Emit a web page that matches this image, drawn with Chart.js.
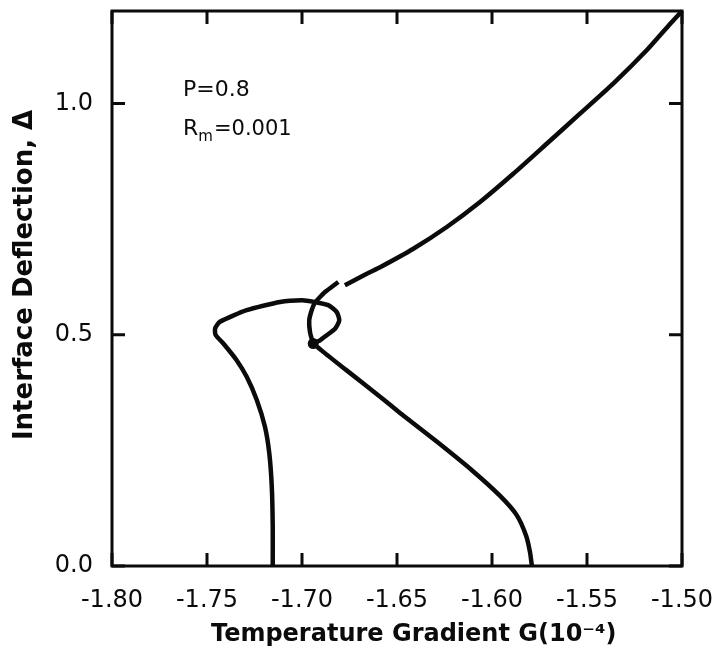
<!DOCTYPE html>
<html>
<head>
<meta charset="utf-8">
<script src="https://cdn.jsdelivr.net/npm/chart.js@4.4.1/dist/chart.umd.min.js"></script>
<style>
  html, body { margin: 0; padding: 0; background: #fff; }
  #wrap { width: 713px; height: 664px; }
</style>
</head>
<body>
<div id="wrap"><canvas id="deflectionChart" width="713" height="664"></canvas></div>
<script>
// tick values
const gTicks = [-1.80, -1.75, -1.70, -1.65, -1.60, -1.55, -1.50];
const deltaTicks = [0.0, 0.5, 1.0];

// left branch, nose, top edge, right side of the loop, then down to G = -1.579
const lowerG = [-1.7154, -1.7154, -1.7159, -1.7172, -1.7195, -1.7238, -1.7291, -1.7344, -1.7414, -1.7455,
  -1.7457, -1.7432, -1.7291, -1.7116, -1.7000, -1.6935, -1.6862, -1.6817, -1.6804, -1.6826,
  -1.6870, -1.6905, -1.6935, -1.6888, -1.6765, -1.6589, -1.6484, -1.6291, -1.6100, -1.5956,
  -1.5870, -1.5820, -1.5800, -1.5790];
const lowerDelta = [0.000, 0.085, 0.171, 0.243, 0.301, 0.359, 0.409, 0.445, 0.481, 0.500,
  0.514, 0.528, 0.553, 0.571, 0.5745, 0.571, 0.564, 0.549, 0.531, 0.513,
  0.499, 0.488, 0.481, 0.463, 0.423, 0.366, 0.331, 0.269, 0.205, 0.151,
  0.110, 0.065, 0.030, 0.000];

// left side of the loop and the upper branch (small break near G = -1.68)
const upperG = [-1.6941, -1.6944, -1.6958, -1.6962, -1.6949, -1.6932, -1.6905, -1.6879, -1.6844, -1.6809,
  null, -1.6774, -1.6659, -1.6589, -1.6414, -1.6238, -1.6063, -1.5888, -1.5712, -1.5537,
  -1.5362, -1.5186, -1.5063, -1.5000];
const upperDelta = [0.481, 0.484, 0.506, 0.531, 0.553, 0.5695, 0.5816, 0.5924, 0.6032, 0.614,
  null, 0.607, 0.632, 0.646, 0.686, 0.733, 0.787, 0.848, 0.913, 0.978,
  1.043, 1.115, 1.172, 1.200];

// the heavy dot where the branches meet
const dotG = [-1.6941];
const dotDelta = [0.481];

const toPoints = (gs, ds) => gs.map((g, i) => ({ x: g, y: ds[i] }));

const ink = '#0b0b0b';
const fontFamily = '"DejaVu Sans", sans-serif';

// frame round the plot with inward tick marks on all four sides
const framePlugin = {
  id: 'frame',
  afterDraw(chart) {
    const { ctx, chartArea: a, scales: { x, y } } = chart;
    const len = 13;
    ctx.save();
    ctx.strokeStyle = ink;
    ctx.lineWidth = 3;
    ctx.strokeRect(a.left, a.top, a.right - a.left, a.bottom - a.top);
    ctx.beginPath();
    gTicks.forEach(v => {
      const px = x.getPixelForValue(v);
      ctx.moveTo(px, a.bottom); ctx.lineTo(px, a.bottom - len);
      ctx.moveTo(px, a.top); ctx.lineTo(px, a.top + len);
    });
    deltaTicks.forEach(v => {
      const py = y.getPixelForValue(v);
      ctx.moveTo(a.left, py); ctx.lineTo(a.left + len, py);
      ctx.moveTo(a.right, py); ctx.lineTo(a.right - len, py);
    });
    ctx.stroke();
    ctx.restore();
  }
};

// parameter labels in the upper left
const noteAt = { g: -1.7626, delta: [1.017, 0.931] };
const notesPlugin = {
  id: 'notes',
  afterDraw(chart) {
    const { ctx, scales: { x, y } } = chart;
    const px = x.getPixelForValue(noteAt.g);
    const y1 = y.getPixelForValue(noteAt.delta[0]);
    const y2 = y.getPixelForValue(noteAt.delta[1]);
    ctx.save();
    ctx.fillStyle = ink;
    ctx.textBaseline = 'alphabetic';
    ctx.textAlign = 'left';
    ctx.font = '22px ' + fontFamily;
    ctx.fillText('P=0.8', px, y1);
    ctx.fillText('R', px, y2);
    let cx = px + ctx.measureText('R').width;
    ctx.font = '15px ' + fontFamily;
    ctx.fillText('m', cx, y2 + 6);
    cx += ctx.measureText('m').width + 1;
    ctx.font = '21px ' + fontFamily;
    ctx.fillText('=0.001', cx, y2);
    ctx.restore();
  }
};

const lineStyle = {
  showLine: true,
  borderColor: ink,
  borderWidth: 4.5,
  pointRadius: 0,
  tension: 0.2,
  spanGaps: false,
  clip: false
};

new Chart(document.getElementById('deflectionChart'), {
  type: 'scatter',
  data: {
    datasets: [
      { label: 'lower', data: toPoints(lowerG, lowerDelta), ...lineStyle },
      { label: 'upper', data: toPoints(upperG, upperDelta), ...lineStyle },
      {
        label: 'dot', data: toPoints(dotG, dotDelta), showLine: false,
        pointRadius: 5.5, pointBackgroundColor: ink, pointBorderWidth: 0, clip: false
      }
    ]
  },
  options: {
    responsive: false,
    animation: false,
    layout: { padding: { top: 11, right: 31, left: 0, bottom: 0 } },
    plugins: {
      legend: { display: false },
      tooltip: { enabled: false }
    },
    scales: {
      x: {
        type: 'linear',
        min: -1.80,
        max: -1.50,
        grid: { display: false, drawTicks: false },
        border: { display: false },
        afterBuildTicks: s => { s.ticks = gTicks.map(v => ({ value: v })); },
        afterFit: s => { s.height = 98; s.paddingLeft = 0; s.paddingRight = 0; },
        ticks: {
          color: ink,
          padding: 20,
          font: { family: fontFamily, size: 24 },
          callback: v => Number(v).toFixed(2)
        },
        title: {
          display: true,
          text: '    Temperature Gradient G(10\u207B\u2074)',
          color: ink,
          font: { family: fontFamily, size: 24, weight: 'bold' },
          padding: { top: 0, bottom: 15 }
        }
      },
      y: {
        type: 'linear',
        min: 0,
        max: 1.2,
        grid: { display: false, drawTicks: false },
        border: { display: false },
        afterBuildTicks: s => { s.ticks = deltaTicks.map(v => ({ value: v })); },
        afterFit: s => { s.width = 112; s.paddingTop = 0; s.paddingBottom = 0; },
        ticks: {
          color: ink,
          padding: 19,
          font: { family: fontFamily, size: 24 },
          callback: v => Number(v).toFixed(1)
        },
        title: {
          display: true,
          text: '   Interface Deflection, \u0394',
          color: ink,
          font: { family: fontFamily, size: 26, weight: 'bold' },
          padding: { top: 10, bottom: 0 }
        }
      }
    }
  },
  plugins: [framePlugin, notesPlugin]
});
</script>
</body>
</html>
